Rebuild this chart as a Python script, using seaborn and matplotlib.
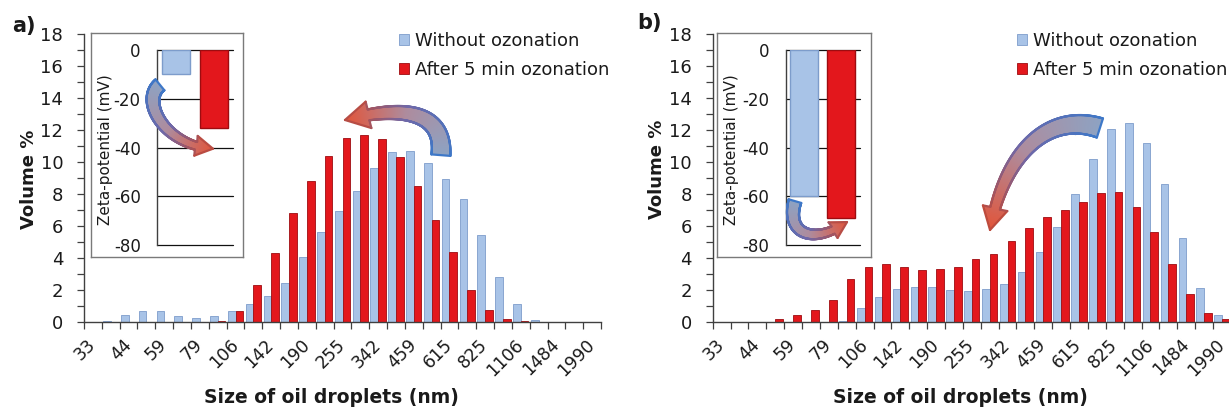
import numpy as np
import pandas as pd
import matplotlib
matplotlib.use("Agg")
import matplotlib.pyplot as plt
import seaborn as sns
from matplotlib.patches import Polygon, Patch
from matplotlib.collections import LineCollection
from matplotlib.colors import LinearSegmentedColormap
from matplotlib.ticker import MultipleLocator

# ---------------- data ----------------
sizes = ["33", "38", "44", "51", "59", "68", "79", "91", "106", "122", "142", "164",
         "190", "220", "255", "295", "342", "396", "459", "531", "615", "712", "825",
         "955", "1106", "1281", "1484", "1718", "1990"]
series = ["Without ozonation", "After 5 min ozonation"]

without_a = [0, 0.05, 0.42, 0.67, 0.67, 0.36, 0.25, 0.37, 0.67, 1.09, 1.63, 2.4, 4.07,
             5.61, 6.9, 8.2, 9.6, 10.64, 10.7, 9.95, 8.91, 7.66, 5.4, 2.82, 1.09, 0.1,
             0, 0, 0]
after_a = [0, 0, 0, 0, 0, 0, 0, 0.05, 0.7, 2.28, 4.28, 6.78, 8.78, 10.37, 11.47, 11.68,
           11.41, 10.28, 8.51, 6.36, 4.34, 1.98, 0.73, 0.15, 0.05, 0, 0, 0, 0]

without_b = [0, 0, 0, 0, 0, 0, 0, 0.05, 0.83, 1.56, 2.03, 2.19, 2.19, 2.0, 1.92, 2.02,
             2.36, 3.11, 4.34, 5.9, 7.97, 10.18, 12.06, 12.45, 11.2, 8.6, 5.22, 2.13, 0.42]
after_b = [0, 0, 0, 0.15, 0.4, 0.73, 1.36, 2.69, 3.44, 3.59, 3.4, 3.23, 3.32, 3.44, 3.9,
           4.21, 5.07, 5.86, 6.57, 6.99, 7.47, 8.03, 8.1, 7.2, 5.61, 3.61, 1.71, 0.52, 0.15]

zeta_a = [-9.7, -31.8]
zeta_b = [-59.8, -68.8]

# ---------------- style ----------------
W, H = 1229, 411
DPI = 100
BLUE, BLUE_E = "#A8C3E7", "#7D9CCB"
RED, RED_E = "#E3171C", "#9E0C10"
TXT = "#1a1a1a"
AXC = "#404040"

sns.set_style("white")
plt.rcParams["font.family"] = ["DejaVu Sans"]
plt.rcParams["axes.unicode_minus"] = False
plt.rcParams["text.color"] = TXT
plt.rcParams["axes.labelcolor"] = TXT
plt.rcParams["xtick.color"] = AXC
plt.rcParams["ytick.color"] = AXC
plt.rcParams["xtick.labelcolor"] = TXT
plt.rcParams["ytick.labelcolor"] = TXT

fig = plt.figure(figsize=(W / DPI, H / DPI), dpi=DPI)


def px_rect(x0, y0, x1, y1):
    return [x0 / W, 1 - y1 / H, (x1 - x0) / W, (y1 - y0) / H]


def main_panel(rect, w_vals, a_vals, legend_xy, ylab_xy):
    ax = fig.add_axes(rect, zorder=1)
    df = pd.DataFrame({"size": sizes * 2,
                       "series": [series[0]] * len(sizes) + [series[1]] * len(sizes),
                       "volume": list(w_vals) + list(a_vals)})
    sns.barplot(data=df, x="size", y="volume", hue="series", order=sizes,
                hue_order=series, palette=[BLUE, RED], saturation=1, width=0.86,
                legend=False, ax=ax)
    for cont, ec in zip(ax.containers, [BLUE_E, RED_E]):
        for p in cont:
            p.set_edgecolor(ec)
            p.set_linewidth(0.6)
    ax.set_xlim(-0.5, len(sizes) - 0.5)
    ax.set_ylim(0, 18)
    for s in ["top", "right"]:
        ax.spines[s].set_visible(False)
    for s in ["left", "bottom"]:
        ax.spines[s].set_color(AXC)
        ax.spines[s].set_linewidth(1.0)
    ax.yaxis.set_major_locator(MultipleLocator(2))
    ax.yaxis.set_minor_locator(MultipleLocator(1))
    ax.tick_params(axis="y", which="both", direction="out", length=5, width=0.9,
                   labelsize=13, pad=10, left=True)
    ax.set_xticks(range(0, len(sizes), 2))
    ax.set_xticklabels(sizes[::2], rotation=45, ha="right", va="center",
                       rotation_mode="anchor", fontsize=12.5)
    ax.set_xticks(np.arange(-0.5, len(sizes), 1), minor=True)
    ax.tick_params(axis="x", which="major", length=0, pad=14.5, bottom=True)
    ax.tick_params(axis="x", which="minor", length=5, width=0.9, direction="out",
                   bottom=True)
    ax.set_ylabel("Volume %", fontsize=13, fontweight="bold", va="center")
    ax.yaxis.set_label_coords(*ylab_xy)
    ax.set_xlabel("Size of oil droplets (nm)", fontsize=13.5, fontweight="bold",
                  va="center")
    ax.xaxis.set_label_coords(0.478, -0.265)
    handles = [Patch(facecolor=BLUE, edgecolor=BLUE_E, lw=0.6),
               Patch(facecolor=RED, edgecolor=RED_E, lw=0.6)]
    ax.legend(handles, series, loc="upper left",
              bbox_to_anchor=(legend_xy[0] / W, 1 - legend_xy[1] / H),
              bbox_transform=fig.transFigure, frameon=False, fontsize=13,
              handlelength=0.55, handleheight=0.55, handletextpad=0.35,
              labelspacing=0.6, borderpad=0, borderaxespad=0)
    return ax


def inset_panel(box, area, zvals, label_xy):
    frame = fig.add_axes(px_rect(*box), zorder=2)
    frame.set_xticks([])
    frame.set_yticks([])
    frame.set_facecolor("white")
    for s in frame.spines.values():
        s.set_color("#7a7a7a")
        s.set_linewidth(1.0)
    axi = fig.add_axes(px_rect(*area), zorder=3)
    axi.patch.set_alpha(0)
    sns.barplot(x=series, y=zvals, hue=series, palette=[BLUE, RED], saturation=1,
                width=0.75, legend=False, ax=axi)
    for p, ec in zip(axi.patches, [BLUE_E, RED_E]):
        p.set_edgecolor(ec)
        p.set_linewidth(1.0)
    axi.set_xlim(-0.5, 1.5)
    axi.set_ylim(-80, 0)
    axi.set_xticks([])
    axi.set_xlabel("")
    for s in ["top", "right", "bottom"]:
        axi.spines[s].set_visible(False)
    axi.spines["left"].set_color(AXC)
    axi.spines["left"].set_linewidth(1.0)
    axi.yaxis.set_major_locator(MultipleLocator(20))
    axi.yaxis.set_minor_locator(MultipleLocator(10))
    axi.tick_params(axis="y", which="major", direction="out", length=5, width=0.9,
                    labelsize=12, pad=7)
    axi.tick_params(axis="y", which="minor", direction="out", length=5, width=0.9)
    for v in range(-80, 1, 20):
        axi.axhline(v, color="#111111", lw=0.9, zorder=0.5, clip_on=False)
    axi.set_ylabel("Zeta-potential (mV)", fontsize=11, va="center")
    axi.yaxis.set_label_coords(*label_xy)
    return axi


ax_a = main_panel([84 / W, (H - 321.7) / H, 517 / W, 287.7 / H],
                  without_a, after_a, (399, 32), (-0.106, 0.496))
ax_b = main_panel([712.7 / W, (H - 321.7) / H, 518.2 / W, 287.7 / H],
                  without_b, after_b, (1017, 32), (-0.108, 0.53))
axi_a = inset_panel((90.7, 32.7, 243, 256.7), (157.3, 50, 233, 245), zeta_a,
                    (-0.69, 0.49))
axi_b = inset_panel((717.3, 33.3, 870.7, 257.3), (785.7, 50, 860, 245), zeta_b,
                    (-0.725, 0.49))

fig.text(12 / W, 1 - 26 / H, "a)", fontsize=15, fontweight="bold", ha="left",
         va="center")
fig.text(637 / W, 1 - 23 / H, "b)", fontsize=15, fontweight="bold", ha="left",
         va="center")

# ---------------- curved gradient arrows (decorations) ----------------
ov = fig.add_axes([0, 0, 1, 1], zorder=10)
ov.set_axis_off()
ov.patch.set_alpha(0)
ov.set_xlim(0, W)
ov.set_ylim(H, 0)

fill_cmap = LinearSegmentedColormap.from_list(
    "f", [(0, "#8EA3C3"), (0.5, "#AE8C9E"), (1, "#E2553A")])
edge_cmap = LinearSegmentedColormap.from_list(
    "e", [(0, "#3E78C8"), (0.5, "#7068A8"), (1, "#C8472E")])


def bezier(P, n=400):
    t = np.linspace(0, 1, n)[:, None]
    P0, P1, P2, P3 = P
    return ((1 - t) ** 3) * P0 + 3 * ((1 - t) ** 2) * t * P1 + 3 * (1 - t) * t ** 2 * P2 + t ** 3 * P3


def gradient_arrow(src_ax, ctrl, w_tail, w_neck, head_w, head_len):
    disp = src_ax.transData.transform(np.array(ctrl, float))
    P = ov.transData.inverted().transform(disp)
    C = bezier(P)
    tip = C[-1]
    d = np.hypot(*(C - tip).T)
    ib = np.where(d >= head_len)[0][-1]
    body = C[:ib + 1]
    seg = np.hypot(*np.diff(body, axis=0).T)
    s = np.concatenate([[0], np.cumsum(seg)])
    total = s[-1] + head_len
    frac = s / s[-1]
    tang = np.gradient(body, axis=0)
    tang /= np.hypot(*tang.T)[:, None]
    nrm = np.stack([-tang[:, 1], tang[:, 0]], axis=1)
    w = w_tail + (w_neck - w_tail) * frac
    left = body + nrm * (w[:, None] / 2)
    right = body - nrm * (w[:, None] / 2)
    B = body[-1]
    D = (tip - B) / np.hypot(*(tip - B))
    Nh = np.array([-D[1], D[0]])
    head = np.array([B + Nh * head_w / 2, tip, B - Nh * head_w / 2])
    pts = np.vstack([left, head, right[::-1]])
    u_body = s / total
    u_pts = np.concatenate([u_body, [s[-1] / total, 1.0, s[-1] / total], u_body[::-1]])

    poly = Polygon(pts, closed=True, facecolor="none", edgecolor="none",
                   transform=ov.transData)
    ov.add_patch(poly)
    x0, y0 = pts.min(axis=0) - 2
    x1, y1 = pts.max(axis=0) + 2
    nx, ny = int((x1 - x0) * 2) + 2, int((y1 - y0) * 2) + 2
    gx, gy = np.meshgrid(np.linspace(x0, x1, nx), np.linspace(y0, y1, ny))
    G = np.stack([gx.ravel(), gy.ravel()], axis=1)
    seg_all = np.hypot(*np.diff(C, axis=0).T)
    uC = np.concatenate([[0], np.cumsum(seg_all)])
    uC /= uC[-1]
    sub = slice(None, None, 2)
    dd = ((G[:, None, :] - C[sub][None, :, :]) ** 2).sum(axis=2)
    uu = uC[sub][dd.argmin(axis=1)].reshape(ny, nx)
    img = fill_cmap(uu)
    im = ov.imshow(img, extent=(x0, x1, y1, y0), origin="upper",
                   interpolation="bilinear", aspect="auto", zorder=11)
    im.set_clip_path(poly)
    closed = np.vstack([pts, pts[:1]])
    uc = np.concatenate([u_pts, u_pts[:1]])
    segs = np.stack([closed[:-1], closed[1:]], axis=1)
    lc = LineCollection(segs, colors=edge_cmap((uc[:-1] + uc[1:]) / 2),
                        linewidths=1.6, zorder=12, capstyle="round",
                        joinstyle="round")
    ov.add_collection(lc)


gradient_arrow(ax_a, [(19.52, 10.42), (19.75, 13.56), (16.66, 13.37), (14.14, 12.62)],
               19, 11, 27, 24)
gradient_arrow(axi_a, [(-0.43, -14.3), (-0.96, -20.9), (-0.30, -39.3), (0.97, -40.5)],
               14, 8, 20, 17)
gradient_arrow(ax_b, [(21.17, 12.12), (18.38, 13.13), (15.86, 10.75), (15.02, 5.74)],
               20, 10, 25, 22)
gradient_arrow(axi_b, [(-0.25, -62.0), (-0.52, -75.9), (0.29, -80.0), (1.15, -70.6)],
               13, 8, 18, 16)

ov.set_xlim(0, W)
ov.set_ylim(H, 0)

fig.savefig("out.png", dpi=DPI)
